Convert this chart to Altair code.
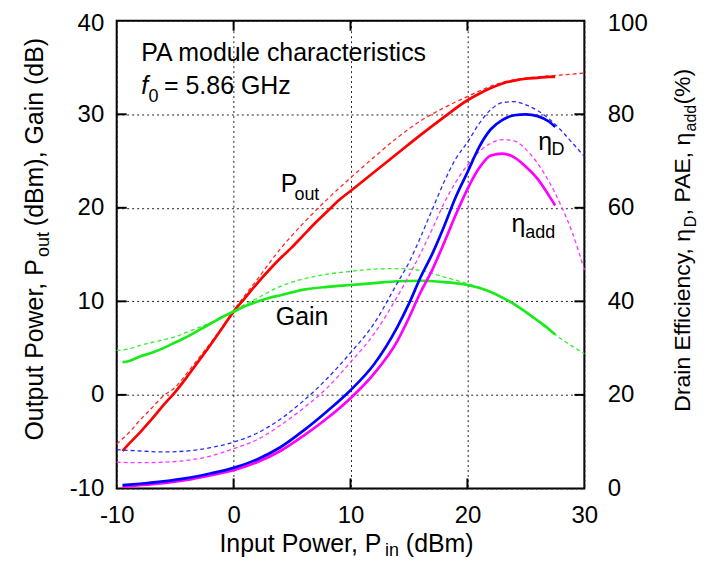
import altair as alt
import pandas as pd

# ---------------- data ----------------
# measured (solid) curves
pin_meas_gain = [-9.5, -9, -8, -7, -6, -5, -4, -3, -2, -1, 0, 1, 2, 3, 4, 6, 8, 10, 12, 14, 16, 18, 20, 21, 22, 23, 24, 25, 26, 27, 27.5]
gain_meas = [3.5, 3.6, 4.1, 4.5, 5.0, 5.6, 6.2, 6.9, 7.6, 8.3, 8.9, 9.5, 9.95, 10.35, 10.65, 11.25, 11.55, 11.75, 11.95, 12.15, 12.2, 12.05, 11.75, 11.45, 11.0, 10.4, 9.7, 8.85, 7.95, 7.0, 6.45]

pin_meas_pout = [-9.5, -9, -8, -7, -6, -5, -4, -3, -2, -1, 0, 1, 2, 3, 4, 5, 6, 7, 8, 9, 10, 12, 14, 16, 18, 20, 21, 22, 23, 24, 25, 26, 27, 27.5]
pout_meas = [-6.0, -5.3, -4.0, -2.6, -1.1, 0.3, 1.9, 3.6, 5.3, 7.1, 8.9, 10.4, 11.9, 13.3, 14.6, 15.8, 17.1, 18.4, 19.6, 20.8, 21.8, 23.8, 25.8, 27.8, 29.7, 31.5, 32.2, 32.8, 33.3, 33.6, 33.8, 33.9, 34.0, 34.0]

pin_meas_eff = [-9.5, -8, -6, -4, -2, 0, 2, 4, 6, 8, 10, 12, 14, 15, 16, 17, 18, 19, 20, 21, 22, 23, 24, 25, 26, 27, 27.5]
etad_meas = [0.7, 1.0, 1.5, 2.2, 3.2, 4.4, 6.2, 8.8, 12.4, 16.5, 21.0, 26.5, 34.5, 39.5, 45.2, 50.2, 56.0, 62.3, 67.6, 73.0, 76.8, 78.8, 79.8, 80.0, 79.6, 78.4, 77.3]
pae_meas = [0.4, 0.7, 1.1, 1.8, 2.8, 3.9, 5.6, 8.0, 11.3, 15.0, 19.3, 24.5, 31.5, 36.5, 42.0, 46.8, 52.5, 58.5, 64.0, 68.5, 71.2, 71.6, 70.8, 68.8, 66.2, 62.5, 60.5]

# simulated (dashed) curves
pin_sim = [-10, -9, -8, -7, -6, -5, -4, -3, -2, -1, 0, 1, 2, 3, 4, 6, 8, 10, 12, 14, 16, 18, 20, 22, 24, 26, 28, 30]
gain_sim = [4.75, 4.9, 5.3, 5.6, 5.9, 6.2, 6.7, 7.2, 7.7, 8.3, 9.0, 9.7, 10.3, 11.0, 11.6, 12.4, 12.9, 13.2, 13.45, 13.5, 13.3, 12.6, 11.9, 11.0, 9.7, 7.9, 6.0, 4.4]
pout_sim = [-5.25, -4.1, -2.7, -1.4, -0.1, 0.8, 2.3, 3.9, 5.5, 7.2, 9.0, 10.7, 12.3, 14.0, 15.6, 18.4, 20.9, 23.2, 25.4, 27.5, 29.3, 30.7, 31.9, 33.0, 33.7, 34.0, 34.2, 34.4]

pin_sim_eff = [-10, -8, -6, -4, -2, 0, 2, 4, 6, 8, 10, 12, 14, 15, 16, 17, 18, 19, 20, 21, 22, 23, 24, 25, 26, 27, 28, 29, 30]
etad_sim = [8.3, 8.0, 7.8, 8.0, 8.7, 9.9, 11.8, 14.8, 18.8, 23.5, 29.0, 35.2, 43.9, 48.3, 53.8, 59.7, 65.5, 70.5, 74.0, 78.0, 81.0, 82.5, 82.7, 82.0, 80.8, 79.0, 76.6, 73.8, 71.0]
pae_sim = [5.6, 5.5, 5.6, 6.0, 6.9, 8.5, 10.4, 13.5, 17.2, 21.5, 27.0, 33.0, 41.0, 45.5, 50.3, 55.5, 61.0, 65.5, 69.1, 72.0, 73.8, 74.6, 74.3, 72.5, 69.5, 65.5, 60.5, 54.5, 46.7]

# axis ticks
x_ticks = [-10, 0, 10, 20, 30]
yl_ticks = [-10, 0, 10, 20, 30, 40]
yr_ticks = [0, 20, 40, 60, 80, 100]
x_inner_ticks = [0, 10, 20]
yl_inner_ticks = [0, 10, 20, 30]
yr_inner_ticks = [20, 40, 60, 80]

# in-plot annotations (data coordinates on the left scale)
ann_text = ["PA module characteristics", "0", "= 5.86 GHz", "P", "out", "Gain", "η", "D", "η", "add"]
ann_x = [-7.89, -7.27, -5.95, 4.04, 5.2, 3.61, 26.06, 27.2, 23.76, 24.95]
ann_y = [35.66, 31.29, 32.19, 21.7, 20.81, 7.48, 26.14, 25.61, 17.43, 16.73]
ann_size = [25, 18, 25, 25, 18, 25, 25, 18, 25, 18]
ital_text = ["f"]
ital_x = [-7.89]
ital_y = [32.19]

FONT = "Liberation Sans"

# ---------------- scales / axes ----------------
XS = alt.Scale(domain=[-10, 30], nice=False, zero=False)
YL = alt.Scale(domain=[-10, 40], nice=False, zero=False)
YR = alt.Scale(domain=[0, 100], nice=False, zero=False)

LBL = "'' + datum.value"
XA = alt.Axis(values=x_ticks, title=None, grid=True, gridDash=[2, 3], gridColor="#222", gridWidth=1,
              domain=False, ticks=False, tickSize=0, labelFontSize=24, labelFont=FONT,
              labelColor="black", labelPadding=15, labelFlush=False, labelExpr=LBL)
YLA = alt.Axis(values=yl_ticks, title=None, grid=True, gridDash=[2, 3], gridColor="#222", gridWidth=1,
               domain=False, ticks=False, tickSize=0, labelFontSize=24, labelFont=FONT,
               labelColor="black", labelPadding=13, labelFlush=False, labelExpr=LBL,
               labelOffset={"condition": {"test": "datum.value == 40", "value": 3}, "value": 0})
YRA = alt.Axis(values=yr_ticks, title=None, grid=False, orient="right",
               domain=False, ticks=False, tickSize=0, labelFontSize=24, labelFont=FONT,
               labelColor="black", labelPadding=23, labelFlush=False, labelExpr=LBL,
               labelOffset={"condition": {"test": "datum.value == 100", "value": 3}, "value": 0})


def curve(xs, ys, color, solid, right=False):
    df = pd.DataFrame({"x": xs, "y": ys})
    if solid:
        m = alt.Chart(df).mark_line(color=color, strokeWidth=2.7, interpolate="monotone")
    else:
        m = alt.Chart(df).mark_line(color=color, strokeWidth=1.3, strokeDash=[4, 3], interpolate="monotone")
    return m.encode(
        x=alt.X("x:Q", scale=XS, axis=XA),
        y=alt.Y("y:Q", scale=YR if right else YL, axis=YRA if right else YLA),
    )


# ---------------- left group ----------------
left_layers = [
    curve(pin_sim, pout_sim, "#ff2a2a", False),
    curve(pin_sim, gain_sim, "#33ee33", False),
    curve(pin_meas_pout, pout_meas, "#ff0000", True),
    curve(pin_meas_gain, gain_meas, "#19ea19", True),
]

tick_l = alt.Chart(pd.DataFrame({"y": yl_inner_ticks})).mark_rule(color="black", strokeWidth=2).encode(
    y=alt.Y("y:Q", scale=YL, axis=YLA), x=alt.value(0), x2=alt.value(10))
tick_b = alt.Chart(pd.DataFrame({"x": x_inner_ticks})).mark_rule(color="black", strokeWidth=2).encode(
    x=alt.X("x:Q", scale=XS, axis=XA), y=alt.value(459), y2=alt.value(469))
tick_t = alt.Chart(pd.DataFrame({"x": x_inner_ticks})).mark_rule(color="black", strokeWidth=2).encode(
    x=alt.X("x:Q", scale=XS, axis=XA), y=alt.value(0), y2=alt.value(10))

ann = alt.Chart(pd.DataFrame({"t": ann_text, "x": ann_x, "y": ann_y, "s": ann_size})).mark_text(
    align="left", baseline="alphabetic", font=FONT, color="black").encode(
    x=alt.X("x:Q", scale=XS, axis=XA), y=alt.Y("y:Q", scale=YL, axis=YLA),
    text="t:N", size=alt.Size("s:Q", scale=None, legend=None))
ital = alt.Chart(pd.DataFrame({"t": ital_text, "x": ital_x, "y": ital_y})).mark_text(
    align="left", baseline="alphabetic", font=FONT, fontSize=25, fontStyle="italic", color="black").encode(
    x=alt.X("x:Q", scale=XS, axis=XA), y=alt.Y("y:Q", scale=YL, axis=YLA), text="t:N")


def label(txt, px, py, size=25, angle=0):
    return alt.Chart(pd.DataFrame({"t": [txt]})).mark_text(
        align="left", baseline="alphabetic", font=FONT, fontSize=size, angle=angle, color="black").encode(
        text="t:N", x=alt.value(px), y=alt.value(py))


titles = [
    # bottom axis title
    label("Input Power, P", 103, 533),
    label("in", 269, 537, 18),
    label("(dBm)", 290, 533),
    # left axis title
    label("Output Power, P", -74, 421, 25, 270),
    label("out", -68, 237, 18, 270),
    label("(dBm), Gain (dB)", -74, 206, 25, 270),
    # right axis title
    label("Drain Efficiency, η", 575, 392, 23, 270),
    label("D", 581, 207, 16, 270),
    label(", PAE, η", 575, 195, 23, 270),
    label("add", 581, 111, 16, 270),
    label("(%)", 575, 84, 23, 270),
]

left_group = alt.layer(*left_layers, tick_l, tick_b, tick_t, ann, ital, *titles)

# ---------------- right group ----------------
tick_r = alt.Chart(pd.DataFrame({"y": yr_inner_ticks})).mark_rule(color="black", strokeWidth=2).encode(
    y=alt.Y("y:Q", scale=YR, axis=YRA), x=alt.value(459), x2=alt.value(469))

right_group = alt.layer(
    curve(pin_sim_eff, etad_sim, "#2a2aff", False, True),
    curve(pin_sim_eff, pae_sim, "#ff33ff", False, True),
    curve(pin_meas_eff, pae_meas, "#ff00ff", True, True),
    curve(pin_meas_eff, etad_meas, "#0000ff", True, True),
    tick_r,
)

chart = alt.layer(left_group, right_group).resolve_scale(y="independent").properties(
    width=469, height=469,
    padding={"left": 109, "top": 12, "right": 125, "bottom": 70},
    autosize=alt.AutoSizeParams(type="none"),
    background="white",
).configure_view(stroke="black", strokeWidth=2)

chart.save("out.html", embed_options={"renderer": "svg", "actions": False})
